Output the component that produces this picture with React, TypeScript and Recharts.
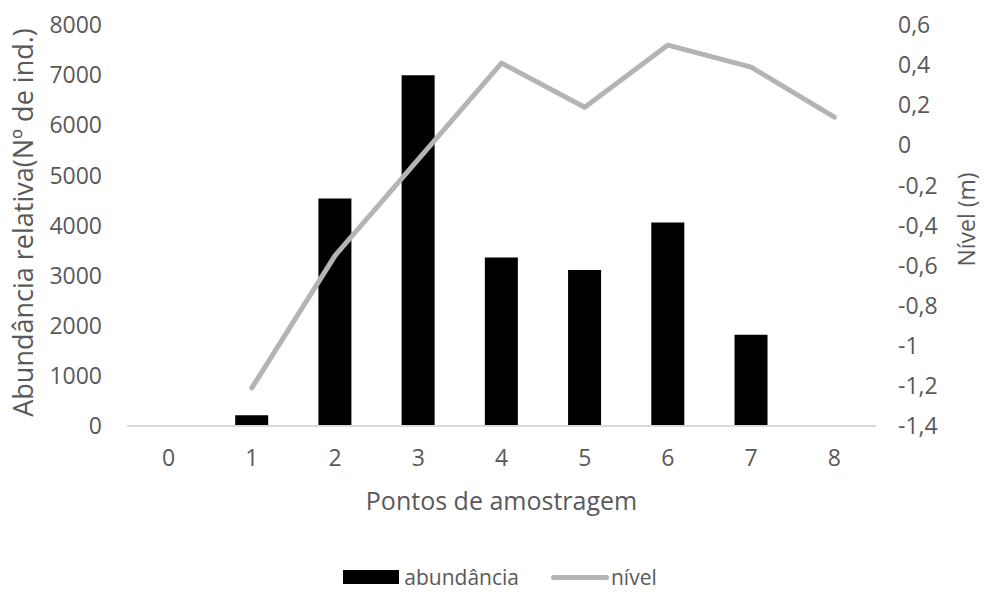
import React from "react";
import { ComposedChart, Bar, Line, XAxis, YAxis, Legend, Label } from "recharts";

const pontos = [0, 1, 2, 3, 4, 5, 6, 7, 8];
const abundancia: (number | null)[] = [null, 215, 4540, 7000, 3360, 3110, 4060, 1820, null];
const nivel: (number | null)[] = [null, -1.21, -0.55, -0.07, 0.41, 0.19, 0.5, 0.39, 0.14];
const leftTicks = [0, 1000, 2000, 3000, 4000, 5000, 6000, 7000, 8000];
const rightTicks = [-1.4, -1.2, -1, -0.8, -0.6, -0.4, -0.2, 0, 0.2, 0.4, 0.6];

const data = pontos.map((p, i) => ({ ponto: p, abundancia: abundancia[i], nivel: nivel[i] }));

const FONT = "'Open Sans', 'Noto Sans', sans-serif";
const TXT = "#595959";
const LINE = "#B4B4B4";

const fmtRight = (v: number) => String(v).replace(".", ",");

const LeftTitle = (props: any) => {
  const { x, y, height } = props.viewBox;
  const cx = x + 22;
  const cy = y + height / 2 - 3;
  return (
    <text x={cx} y={cy} transform={`rotate(-90 ${cx} ${cy})`} textAnchor="middle" dominantBaseline="central"
      fill={TXT} fontSize={27} fontFamily={FONT}>
      Abundância relativa(Nº de ind.)
    </text>
  );
};

const RightTitle = (props: any) => {
  const { x, y, height } = props.viewBox;
  const cx = x + 90;
  const cy = y + height / 2 - 6;
  return (
    <text x={cx} y={cy} transform={`rotate(-90 ${cx} ${cy})`} textAnchor="middle" dominantBaseline="central"
      fill={TXT} fontSize={23} fontFamily={FONT}>
      Nível (m)
    </text>
  );
};

const BottomTitle = (props: any) => {
  const { x, y, width } = props.viewBox;
  return (
    <text x={x + width / 2} y={y + 74} textAnchor="middle" dominantBaseline="central"
      fill={TXT} fontSize={25} fontFamily={FONT}>
      Pontos de amostragem
    </text>
  );
};

const LegendContent = () => (
  <div style={{ display: "flex", justifyContent: "center", alignItems: "center", height: 24, marginTop: 7, paddingLeft: 16, fontFamily: FONT, fontSize: 21, color: TXT }}>
    <div style={{ display: "flex", alignItems: "center", marginRight: 32 }}>
      <span style={{ display: "inline-block", width: 56, height: 14, background: "#000", marginRight: 5 }} />
      <span>abundância</span>
    </div>
    <div style={{ display: "flex", alignItems: "center" }}>
      <span style={{ display: "inline-block", width: 58, height: 5, borderRadius: 3, background: LINE, marginRight: 2 }} />
      <span>nível</span>
    </div>
  </div>
);

export default function App() {
  return (
    <div style={{ position: "absolute", left: 0, top: 0, width: 984, height: 592, background: "#fff" }}>
      <ComposedChart width={984} height={592} data={data} margin={{ top: 25, right: 0, left: 0, bottom: 0 }} barCategoryGap="30%">
        <XAxis dataKey="ponto" height={132} axisLine={{ stroke: "#D9D9D9", strokeWidth: 2 }} tickLine={false} tickSize={0} tickMargin={24}
          tick={{ fill: TXT, fontSize: 23, fontFamily: FONT }}>
          <Label content={<BottomTitle />} />
        </XAxis>
        <YAxis yAxisId="left" width={127} domain={[0, 8000]} ticks={leftTicks} axisLine={false} tickLine={false} tickSize={0} tickMargin={25}
          tick={{ fill: TXT, fontSize: 23, fontFamily: FONT }} interval={0}>
          <Label content={<LeftTitle />} />
        </YAxis>
        <YAxis yAxisId="right" orientation="right" width={108} domain={[-1.4, 0.6]} ticks={rightTicks} axisLine={false} tickLine={false}
          tickSize={0} tickMargin={22} tickFormatter={fmtRight} tick={{ fill: TXT, fontSize: 23, fontFamily: FONT }} interval={0}>
          <Label content={<RightTitle />} />
        </YAxis>
        <Bar yAxisId="left" dataKey="abundancia" fill="#000" isAnimationActive={false} />
        <Line yAxisId="right" dataKey="nivel" type="linear" stroke={LINE} strokeWidth={5} strokeLinecap="round" strokeLinejoin="round"
          dot={false} activeDot={false} isAnimationActive={false} />
        <Legend verticalAlign="bottom" height={34} content={<LegendContent />} wrapperStyle={{ height: 34 }} />
      </ComposedChart>
    </div>
  );
}
